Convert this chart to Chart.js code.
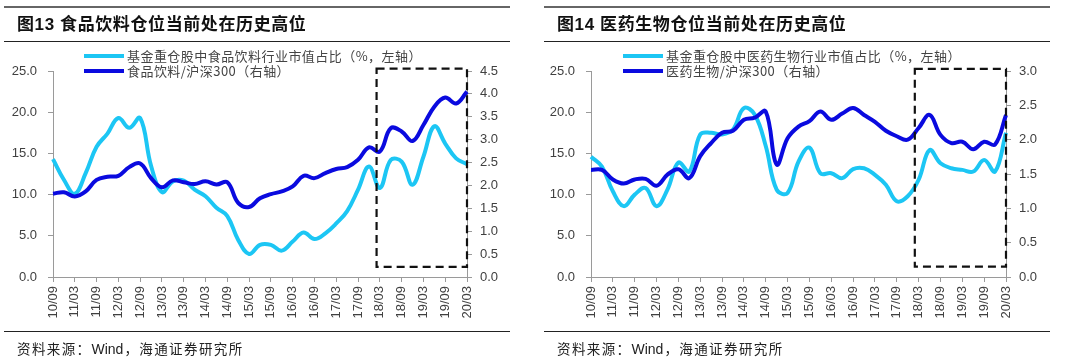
<!DOCTYPE html>
<html><head><meta charset="utf-8">
<script src="https://cdn.jsdelivr.net/npm/chart.js@4.4.1/dist/chart.umd.min.js"></script>
<style>
html,body{margin:0;padding:0;background:#fff;}
body{width:1080px;height:359px;position:relative;overflow:hidden;font-family:"Liberation Sans","Noto Sans CJK SC",sans-serif;}
.panel{position:absolute;top:0;width:540px;height:359px;}
.panel canvas{position:absolute;left:0;top:0;}
.topline{position:absolute;left:4px;width:506px;top:6px;height:0;border-top:2px solid #666;}
.title{position:absolute;left:17px;top:14px;font-size:17px;line-height:22px;font-weight:bold;color:#111;white-space:nowrap;letter-spacing:0.6px;font-family:"Liberation Sans","Noto Sans CJK SC",sans-serif;}
.uline{position:absolute;left:4px;width:506px;top:41px;height:0;border-top:1.6px solid #222;}
.bline{position:absolute;left:4px;width:506px;top:331px;height:0;border-top:1.6px solid #222;}
.source{position:absolute;left:17px;top:340px;font-size:13.5px;line-height:18px;color:#222;white-space:nowrap;letter-spacing:1.4px;}
.source .lat{letter-spacing:0;font-size:14px;margin-right:1px;}
.legend{position:absolute;font-size:13px;line-height:15px;color:#444;white-space:nowrap;letter-spacing:0.45px;font-family:"Noto Sans CJK SC","Liberation Sans",sans-serif;}
.legend .sw{display:inline-block;width:40px;height:4px;vertical-align:middle;margin-right:3px;position:relative;top:-1px;}
</style>
</head><body>

<div class="panel" id="p1" style="left:0">
  <canvas id="c1" width="540" height="359"></canvas>
  <div class="topline"></div>
  <div class="title">图13 食品饮料仓位当前处在历史高位</div>
  <div class="uline"></div>
  <div class="legend" style="left:84px;top:48px"><span class="sw" style="background:#1CC6F4"></span>基金重仓股中食品饮料行业市值占比（%，左轴）</div>
  <div class="legend" style="left:84px;top:63px"><span class="sw" style="background:#0A0ADF"></span>食品饮料/沪深300（右轴）</div>
  <div class="bline"></div>
  <div class="source">资料来源：<span class="lat">Wind</span>，海通证券研究所</div>
</div>

<div class="panel" id="p2" style="left:540px">
  <canvas id="c2" width="540" height="359"></canvas>
  <div class="topline"></div>
  <div class="title">图14 医药生物仓位当前处在历史高位</div>
  <div class="uline"></div>
  <div class="legend" style="left:83px;top:48px"><span class="sw" style="background:#1CC6F4"></span>基金重仓股中医药生物行业市值占比（%，左轴）</div>
  <div class="legend" style="left:83px;top:63px"><span class="sw" style="background:#0A0ADF"></span>医药生物/沪深300（右轴）</div>
  <div class="bline"></div>
  <div class="source">资料来源：<span class="lat">Wind</span>，海通证券研究所</div>
</div>

<script>
// ---- categories (quarter ends) ----
const quarters = ['10/09','10/12','11/03','11/06','11/09','11/12','12/03','12/06','12/09','12/12',
  '13/03','13/06','13/09','13/12','14/03','14/06','14/09','14/12','15/03','15/06',
  '15/09','15/12','16/03','16/06','16/09','16/12','17/03','17/06','17/09','17/12',
  '18/03','18/06','18/09','18/12','19/03','19/06','19/09','19/12','20/03'];

// ---- 图13 食品饮料 ----
const foodShare = [14.3, 11.8, 10.1, 12.6, 15.8, 17.4, 19.3, 18.1, 19.3, 13.5,
  10.3, 11.6, 11.7, 10.6, 9.8, 8.4, 7.4, 4.5, 2.8, 3.9,
  3.9, 3.2, 4.3, 5.4, 4.6, 5.3, 6.5, 8.0, 10.6, 13.4,
  10.8, 14.2, 14.0, 11.2, 14.6, 18.3, 16.2, 14.4, 13.7];
const foodRatio = [1.82, 1.85, 1.76, 1.87, 2.12, 2.19, 2.21, 2.40, 2.48, 2.16,
  1.96, 2.11, 2.07, 2.03, 2.09, 2.02, 2.07, 1.62, 1.53, 1.72,
  1.81, 1.87, 1.98, 2.21, 2.16, 2.27, 2.36, 2.40, 2.56, 2.83,
  2.74, 3.25, 3.18, 2.97, 3.32, 3.72, 3.92, 3.79, 4.05];

// ---- 图14 医药生物 ----
const pharmaShare = [14.6, 13.4, 10.4, 8.6, 10.0, 10.8, 8.6, 10.6, 13.9, 12.8,
  17.3, 17.5, 17.3, 17.9, 20.5, 19.7, 15.9, 10.6, 10.2, 14.0,
  15.7, 12.6, 12.6, 12.0, 13.1, 13.2, 12.4, 11.2, 9.2, 9.8,
  11.8, 15.4, 13.8, 13.2, 13.0, 12.8, 14.2, 12.8, 17.5];
const pharmaRatio = [1.56, 1.56, 1.42, 1.36, 1.42, 1.43, 1.33, 1.49, 1.57, 1.44,
  1.76, 1.95, 2.10, 2.13, 2.29, 2.32, 2.41, 1.64, 2.02, 2.19,
  2.27, 2.41, 2.29, 2.38, 2.46, 2.36, 2.26, 2.13, 2.05, 2.00,
  2.17, 2.36, 2.07, 1.95, 1.97, 1.86, 1.97, 1.93, 2.36];

// axis ranges & highlight box (in data units)
const leftAxisTicks = {min:0, max:25, step:5};
const foodRightAxis = {min:0, max:4.5, step:0.5};
const pharmaRightAxis = {min:0, max:3.0, step:0.5};
const foodBox = {from:29.7, top:4.55, bottom:0.22};
const pharmaBox = {from:29.65, top:3.03, bottom:0.15};

const LIGHT = '#1CC6F4', DARK = '#0A0ADF';
const AXIS = '#9a9a9a', TXT = '#404040';
const tickFont = {family:'Liberation Sans', size:13};

const boxPlugin = {
  id:'hlbox',
  afterDatasetsDraw(chart, args, o){
    const {ctx, chartArea, scales} = chart;
    const x0 = scales.x.getPixelForValue(o.from);
    const x1 = chartArea.right;
    const y0 = scales.y1.getPixelForValue(o.top);
    const y1 = scales.y1.getPixelForValue(o.bottom);
    ctx.save();
    ctx.strokeStyle = '#111';
    ctx.lineWidth = 2.2;
    ctx.setLineDash([8,5]);
    ctx.strokeRect(x0, y0, x1 - x0, y1 - y0);
    ctx.restore();
  }
};

function makeChart(id, share, ratio, rAxis, box, leftW, rightW){
  return new Chart(document.getElementById(id), {
    type:'line',
    data:{
      labels: quarters,
      datasets:[
        {data: share, yAxisID:'y', borderColor: LIGHT, borderWidth:4, pointRadius:0, tension:0.4, order:1, fill:false},
        {data: ratio, yAxisID:'y1', borderColor: DARK, borderWidth:4, pointRadius:0, tension:0.4, order:0, fill:false}
      ]
    },
    options:{
      responsive:false, devicePixelRatio:1, animation:false,
      layout:{padding:{top:71, left:0, right:0, bottom:0}},
      plugins:{legend:{display:false}, tooltip:{enabled:false}, hlbox: box},
      scales:{
        x:{
          type:'category', offset:false,
          grid:{display:true, drawOnChartArea:false, drawTicks:true, tickLength:5,
                tickColor: c => (c.index % 2 === 0 ? AXIS : 'rgba(0,0,0,0)')},
          border:{display:true, color:AXIS, width:1},
          ticks:{autoSkip:false, minRotation:90, maxRotation:90, padding:4, color:TXT, font:tickFont,
                 callback:(v,i) => (i % 2 === 0 ? quarters[i] : '')},
          afterFit: s => { s.height = 82; }
        },
        y:{
          position:'left', min:leftAxisTicks.min, max:leftAxisTicks.max,
          grid:{drawOnChartArea:false, tickLength:5, color:AXIS},
          border:{display:true, color:AXIS, width:1},
          ticks:{stepSize:leftAxisTicks.step, padding:11, color:TXT, font:tickFont, callback:v => Number(v).toFixed(1)},
          afterFit: s => { s.width = leftW; }
        },
        y1:{
          position:'right', min:rAxis.min, max:rAxis.max,
          grid:{drawOnChartArea:false, tickLength:5, color:AXIS},
          border:{display:true, color:AXIS, width:1},
          ticks:{stepSize:rAxis.step, padding:8, color:TXT, font:tickFont, callback:v => Number(v).toFixed(1)},
          afterFit: s => { s.width = rightW; }
        }
      }
    },
    plugins:[boxPlugin]
  });
}

makeChart('c1', foodShare, foodRatio, foodRightAxis, foodBox, 53, 73);
makeChart('c2', pharmaShare, pharmaRatio, pharmaRightAxis, pharmaBox, 51, 74);
</script>
</body></html>
